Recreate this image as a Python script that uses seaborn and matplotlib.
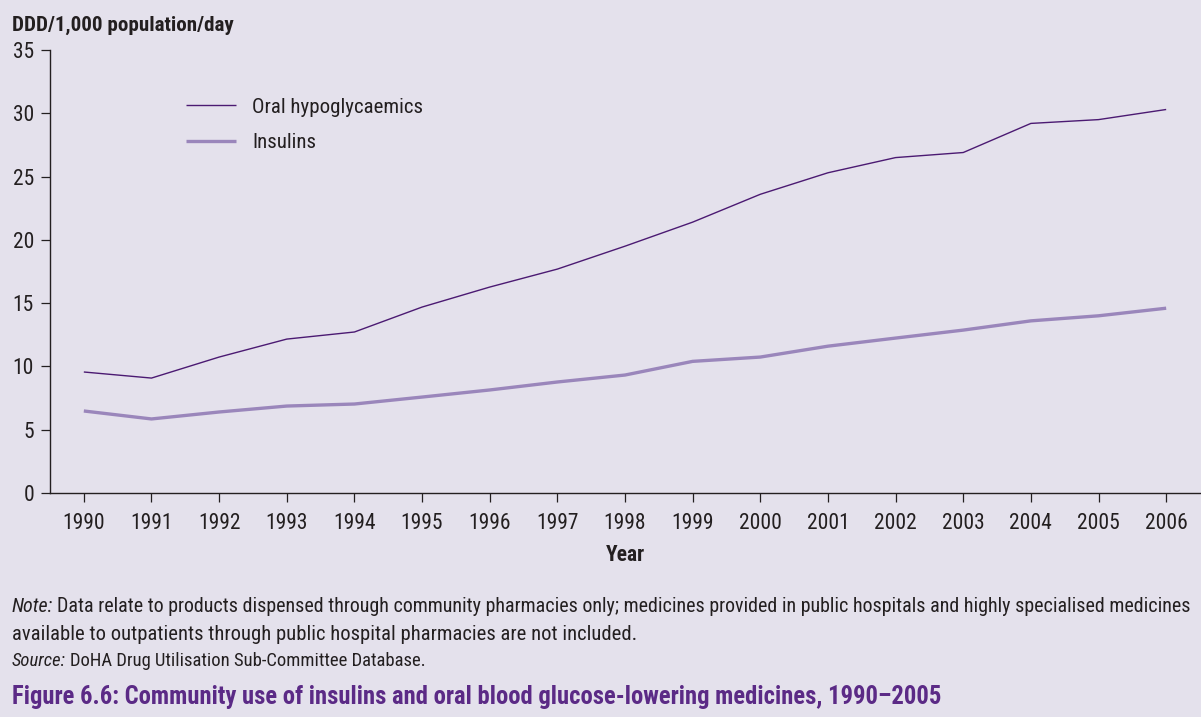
import matplotlib
matplotlib.use("Agg")
import matplotlib.pyplot as plt
from matplotlib import font_manager
import seaborn as sns
import pandas as pd

years = list(range(1990, 2007))
oral = [9.56, 9.08, 10.74, 12.16, 12.72, 14.69, 16.27, 17.69, 19.5, 21.4,
        23.6, 25.3, 26.5, 26.9, 29.2, 29.5, 30.3]
insulins = [6.48, 5.85, 6.4, 6.87, 7.03, 7.58, 8.14, 8.77, 9.32, 10.4,
            10.74, 11.6, 12.24, 12.87, 13.6, 14.0, 14.6]
series_names = ["Oral hypoglycaemics", "Insulins"]
yticks = [0, 5, 10, 15, 20, 25, 30, 35]

bg = "#e4e1ec"
ink = "#231f20"
colors = {"Oral hypoglycaemics": "#4b1a72", "Insulins": "#9a86bb"}
widths = {"Oral hypoglycaemics": 1.0, "Insulins": 2.4}

df = pd.DataFrame({
    "Year": years * 2,
    "value": oral + insulins,
    "series": [series_names[0]] * len(years) + [series_names[1]] * len(years),
})

# look for a narrow face, the original uses a condensed font
names = {f.name for f in font_manager.fontManager.ttflist}
stretch = "normal"
family = "Liberation Sans"
for cand in ["Liberation Sans Narrow", "Roboto Condensed", "Open Sans Condensed",
             "DejaVu Sans Condensed"]:
    if cand in names:
        family = cand
        break
else:
    for f in font_manager.fontManager.ttflist:
        if f.name == "Noto Sans" and f.stretch in ("condensed", "semi-condensed"):
            family, stretch = "Noto Sans", f.stretch
            break

sns.set_style("ticks")
plt.rcParams["font.family"] = [family, "DejaVu Sans"]
plt.rcParams["font.stretch"] = stretch

fig = plt.figure(figsize=(12.01, 7.17), dpi=100, facecolor=bg)
ax = fig.add_axes([50 / 1201, 224 / 717, 1150 / 1201, 443 / 717])
ax.set_facecolor(bg)

for name in series_names:
    sns.lineplot(data=df[df["series"] == name], x="Year", y="value",
                 color=colors[name], linewidth=widths[name], label=name,
                 ax=ax, solid_capstyle="butt")

ax.set_xlim(1989.5, 2006.5)
ax.set_ylim(0, 35)
ax.set_xticks(years)
ax.set_xticklabels([str(y) for y in years])
ax.set_yticks(yticks)
for s in ["top", "right"]:
    ax.spines[s].set_visible(False)
for s in ["left", "bottom"]:
    ax.spines[s].set_color(ink)
    ax.spines[s].set_linewidth(1.0)
ax.tick_params(axis="both", direction="out", length=6.5, width=0.9,
               color=ink, labelsize=15.5, labelcolor=ink)
ax.tick_params(axis="x", pad=8)
ax.tick_params(axis="y", pad=5)
ax.set_xlabel("Year", fontsize=15.5, fontweight="bold", color=ink, labelpad=7)
ax.set_ylabel("")

leg = ax.legend(loc="upper left", bbox_to_anchor=(167 / 1201, 1 - 79 / 717),
                bbox_transform=fig.transFigure, frameon=False, fontsize=15,
                handlelength=2.4, handletextpad=0.8, labelspacing=0.78)
for t in leg.get_texts():
    t.set_color(ink)


def fit_line(y_px, parts, x_end, fs, **kw):
    # parts: list of (text, style); shrink the font so the line ends at x_end
    r = fig.canvas.get_renderer()
    for _ in range(3):
        x = 12
        texts = []
        for txt, st in parts:
            t = fig.text(x / 1201, 1 - y_px / 717, txt, fontsize=fs, style=st,
                         va="center", ha="left", **kw)
            bb = t.get_window_extent(renderer=r)
            x = bb.x1 + 4
            texts.append(t)
        width = x - 4 - 12
        if abs(width - (x_end - 12)) < 2:
            return
        fs = fs * (x_end - 12) / width
        for t in texts:
            t.remove()


fig.canvas.draw()
fit_line(25, [("DDD/1,000 population/day", "normal")], 233, 14,
         fontweight="bold", color=ink)
fit_line(606, [("Note:", "italic"),
               ("Data relate to products dispensed through community pharmacies only; "
                "medicines provided in public hospitals and highly specialised medicines",
                "normal")], 1190, 13, color=ink)
fit_line(634, [("available to outpatients through public hospital pharmacies are not included.",
                "normal")], 637, 13, color=ink)
fit_line(661, [("Source:", "italic"),
               ("DoHA Drug Utilisation Sub-Committee Database.", "normal")], 425, 13,
         color=ink)
fit_line(697, [("Figure 6.6: Community use of insulins and oral blood glucose-lowering "
                "medicines, 1990\u20132005", "normal")], 942, 17,
         fontweight="bold", color="#5b2a86")

fig.savefig("out.png", dpi=100, facecolor=bg)
